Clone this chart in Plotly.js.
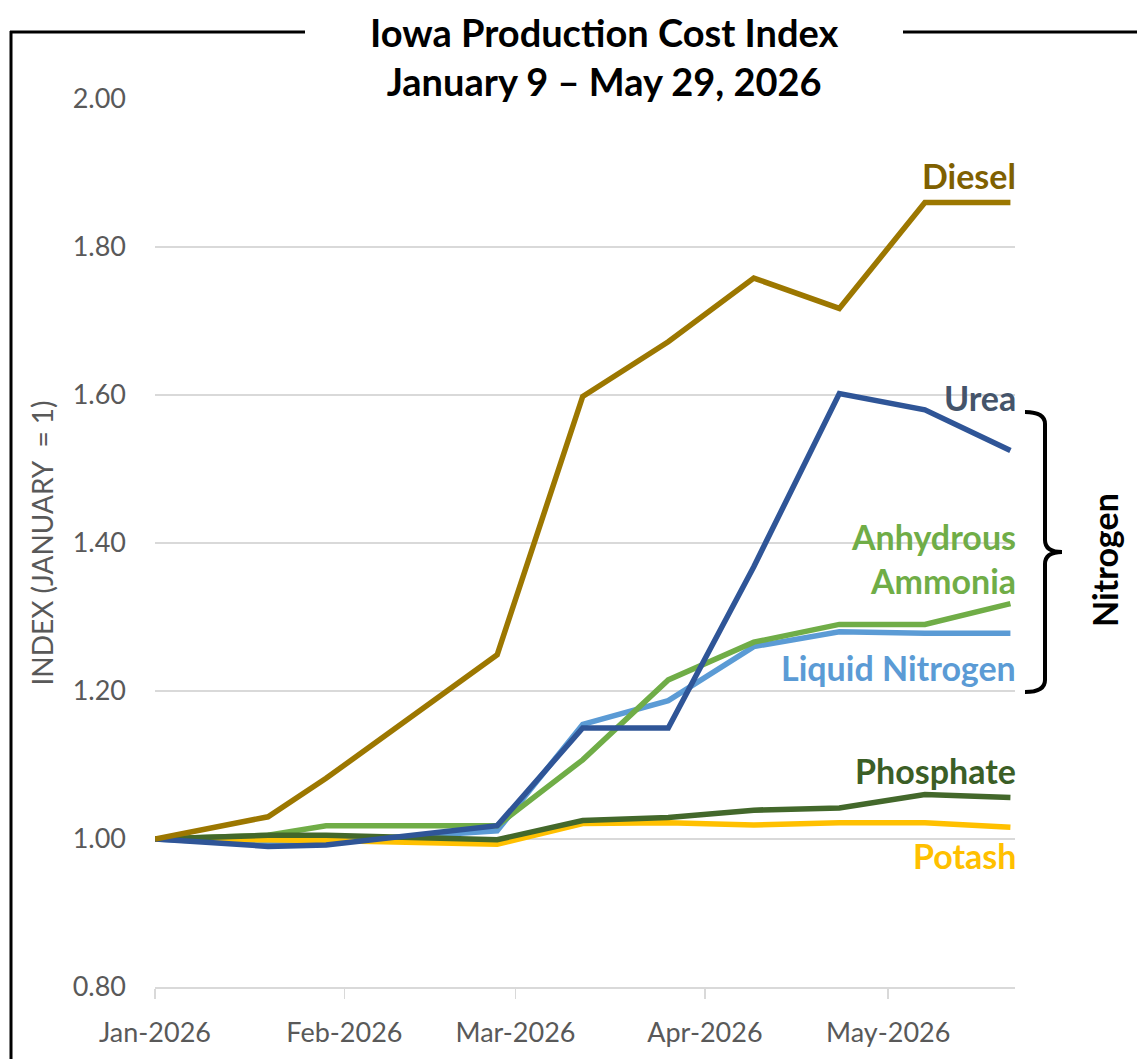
<!DOCTYPE html>
<html>
<head>
<meta charset="utf-8">
<script src="https://cdn.plot.ly/plotly-3.0.1.min.js"></script>
<style>html,body{margin:0;padding:0;background:#fff;}#chart{width:1137px;height:1059px;}</style>
</head>
<body>
<div id="chart"></div>
<script>
// ---- data ----
const dates = ['2026-01-09','2026-01-27 12:00','2026-02-06','2026-03-06','2026-03-20','2026-04-03','2026-04-17','2026-05-01','2026-05-15','2026-05-29'];
const diesel    = [1.000, 1.030, 1.082, 1.249, 1.598, 1.672, 1.758, 1.717, 1.860, 1.860];
const urea      = [1.000, 0.990, 0.992, 1.018, 1.150, 1.150, 1.368, 1.602, 1.580, 1.525];
const anhydrous = [1.000, 1.005, 1.018, 1.018, 1.107, 1.215, 1.266, 1.290, 1.290, 1.318];
const liquidN   = [1.000, 0.993, 0.996, 1.011, 1.155, 1.187, 1.260, 1.280, 1.278, 1.278];
const phosphate = [1.000, 1.005, 1.005, 0.999, 1.025, 1.029, 1.039, 1.042, 1.060, 1.056];
const potash    = [1.000, 0.998, 0.998, 0.993, 1.021, 1.022, 1.019, 1.022, 1.022, 1.016];
const tickDates = ['2026-01-09','2026-02-09','2026-03-09','2026-04-09','2026-05-09'];
const tickLabels = ['Jan-2026','Feb-2026','Mar-2026','Apr-2026','May-2026'];

const FONT = 'Lato, Carlito, Calibri, sans-serif';
const W = 1137, H = 1059;
const M = {l:155, r:122, t:99, b:72};
const PW = W - M.l - M.r, PH = H - M.t - M.b;
const px = x => (x - M.l) / PW;
const py = y => (H - M.b - y) / PH;

function tr(y, color, name) {
  return {x: dates, y: y, type: 'scatter', mode: 'lines', name: name,
          line: {color: color, width: 5.5}, hoverinfo: 'x+y'};
}
const data = [
  tr(liquidN, '#5b9bd5', 'Liquid Nitrogen'),
  tr(anhydrous, '#70ad47', 'Anhydrous Ammonia'),
  tr(potash, '#ffc000', 'Potash'),
  tr(phosphate, '#43682b', 'Phosphate'),
  tr(urea, '#2f5597', 'Urea'),
  tr(diesel, '#9c7700', 'Diesel')
];

function lab(text, y, color) {
  return {text: text, xref: 'paper', yref: 'y', x: px(1018), y: y, xanchor: 'right', yanchor: 'middle',
          showarrow: false, font: {family: FONT, size: 34, color: color, weight: 'bold'}};
}
const brace = 'M ' + px(1025) + ',' + py(412) +
  ' Q ' + px(1045) + ',' + py(412) + ' ' + px(1045) + ',' + py(424) +
  ' L ' + px(1045) + ',' + py(540) +
  ' Q ' + px(1045) + ',' + py(552) + ' ' + px(1062) + ',' + py(552) +
  ' Q ' + px(1045) + ',' + py(552) + ' ' + px(1045) + ',' + py(564) +
  ' L ' + px(1045) + ',' + py(680) +
  ' Q ' + px(1045) + ',' + py(692) + ' ' + px(1025) + ',' + py(692);

const layout = {
  width: W, height: H, margin: M, showlegend: false,
  paper_bgcolor: '#fff', plot_bgcolor: '#fff',
  font: {family: FONT, color: '#595959'},
  xaxis: {type: 'date', range: ['2026-01-09', '2026-05-29 18:00'], tickvals: tickDates, ticktext: tickLabels,
          showgrid: false, showline: true, linecolor: '#d9d9d9', linewidth: 1.5, zeroline: false,
          ticks: 'outside', ticklen: 10, tickcolor: '#d9d9d9', tickwidth: 1.5, ticklabelstandoff: 11,
          tickfont: {family: FONT, size: 27, color: '#595959'}},
  yaxis: {range: [0.8, 2.0], dtick: 0.2, tick0: 0.8, tickformat: '.2f', showgrid: true, gridcolor: '#d9d9d9',
          gridwidth: 1.5, zeroline: false, showline: false, ticks: '', ticklabelstandoff: 28,
          tickfont: {family: FONT, size: 27, color: '#595959'},
          title: {text: 'INDEX (JANUARY  = 1)', standoff: 10, font: {family: FONT, size: 28, color: '#595959'}}},
  shapes: [
    {type: 'rect', xref: 'paper', yref: 'paper', x0: px(305), x1: px(903), y0: py(106), y1: py(0), fillcolor: '#fff', line: {width: 0}, layer: 'above'},
    {type: 'line', xref: 'paper', yref: 'paper', x0: px(10), x1: px(305), y0: py(32), y1: py(32), line: {color: '#000', width: 3}},
    {type: 'line', xref: 'paper', yref: 'paper', x0: px(903), x1: px(1137), y0: py(32), y1: py(32), line: {color: '#000', width: 3}},
    {type: 'line', xref: 'paper', yref: 'paper', x0: px(11), x1: px(11), y0: py(31), y1: py(1059), line: {color: '#000', width: 3}},
    {type: 'path', xref: 'paper', yref: 'paper', path: brace, line: {color: '#000', width: 4}, layer: 'above'}
  ],
  annotations: [
    {text: 'Iowa Production Cost Index<br>January 9 – May 29, 2026', xref: 'paper', yref: 'paper', x: px(604), y: py(56),
     xanchor: 'center', yanchor: 'middle', showarrow: false, align: 'center',
     font: {family: FONT, size: 38, color: '#000', weight: 'bold'}},
    lab('Diesel', 1.897, '#7f6000'),
    lab('Urea', 1.596, '#44546a'),
    lab('Anhydrous', 1.409, '#70ad47'),
    lab('Ammonia', 1.350, '#70ad47'),
    lab('Liquid Nitrogen', 1.232, '#5b9bd5'),
    lab('Phosphate', 1.093, '#3b5e26'),
    lab('Potash', 0.978, '#ffc000'),
    {text: 'Nitrogen', xref: 'paper', yref: 'paper', x: px(1104), y: py(560), textangle: -90, showarrow: false,
     xanchor: 'center', yanchor: 'middle', font: {family: FONT, size: 34, color: '#000', weight: 'bold'}}
  ]
};
Plotly.newPlot('chart', data, layout, {displayModeBar: false, staticPlot: true});
</script>
</body>
</html>
